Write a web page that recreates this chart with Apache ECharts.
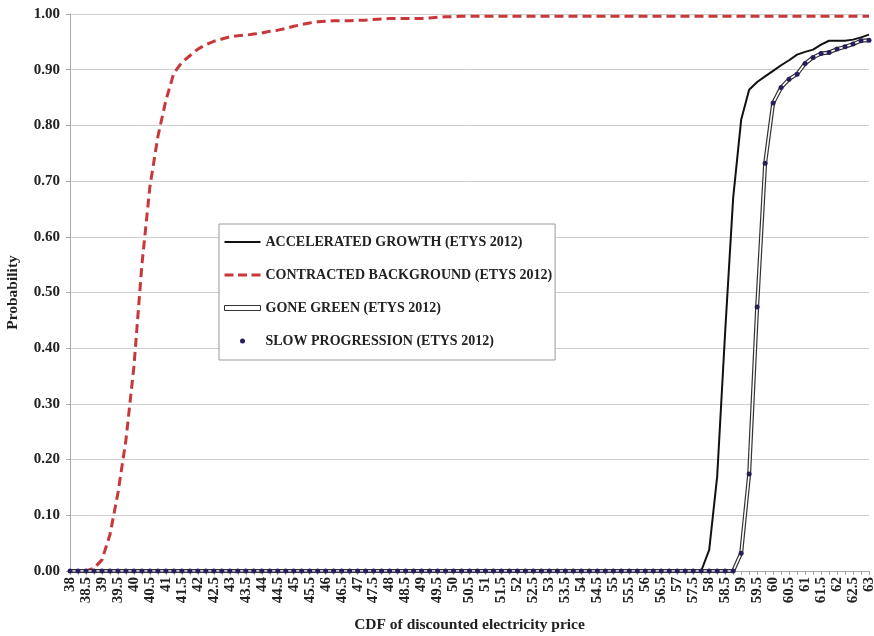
<!DOCTYPE html>
<html>
<head>
<meta charset="utf-8">
<script src="https://cdn.jsdelivr.net/npm/echarts@6/dist/echarts.min.js"></script>
<style>
html,body{margin:0;padding:0;background:#fff;}
#chart{width:874px;height:636px;}
</style>
</head>
<body>
<div id="chart"></div>
<script>
// Categories: discounted electricity price, step 0.25
var categories = ["38","38.25","38.5","38.75","39","39.25","39.5","39.75","40","40.25","40.5","40.75","41","41.25","41.5","41.75","42","42.25","42.5","42.75","43","43.25","43.5","43.75","44","44.25","44.5","44.75","45","45.25","45.5","45.75","46","46.25","46.5","46.75","47","47.25","47.5","47.75","48","48.25","48.5","48.75","49","49.25","49.5","49.75","50","50.25","50.5","50.75","51","51.25","51.5","51.75","52","52.25","52.5","52.75","53","53.25","53.5","53.75","54","54.25","54.5","54.75","55","55.25","55.5","55.75","56","56.25","56.5","56.75","57","57.25","57.5","57.75","58","58.25","58.5","58.75","59","59.25","59.5","59.75","60","60.25","60.5","60.75","61","61.25","61.5","61.75","62","62.25","62.5","62.75","63"];

var seriesNames = [
  "ACCELERATED GROWTH (ETYS 2012)",
  "CONTRACTED BACKGROUND (ETYS 2012)",
  "GONE GREEN (ETYS 2012)",
  "SLOW PROGRESSION (ETYS 2012)"
];

var acceleratedGrowth = [
  0,0,0,0,0,0,0,0,0,0, 0,0,0,0,0,0,0,0,0,0,
  0,0,0,0,0,0,0,0,0,0, 0,0,0,0,0,0,0,0,0,0,
  0,0,0,0,0,0,0,0,0,0, 0,0,0,0,0,0,0,0,0,0,
  0,0,0,0,0,0,0,0,0,0, 0,0,0,0,0,0,0,0,0,0,
  0.038,0.17,0.43,0.67,0.81,0.864,0.878,0.888,0.898,0.908,
  0.917,0.927,0.932,0.936,0.945,0.952,0.952,0.952,0.954,0.958,
  0.963
];

var contractedBackground = [
  0,0,0,0.005,0.02,0.065,0.14,0.235,0.367,0.55,
  0.69,0.78,0.845,0.894,0.913,0.925,0.937,0.945,0.951,0.955,
  0.959,0.961,0.962,0.964,0.966,0.969,0.971,0.974,0.978,0.981,
  0.984,0.986,0.987,0.988,0.988,0.988,0.989,0.989,0.990,0.991,
  0.992,0.992,0.992,0.992,0.992,0.993,0.994,0.995,0.995,0.996,
  0.996,0.996,0.996,0.996,0.996,0.996,0.996,0.996,0.996,0.996,
  0.996,0.996,0.996,0.996,0.996,0.996,0.996,0.996,0.996,0.996,
  0.996,0.996,0.996,0.996,0.996,0.996,0.996,0.996,0.996,0.996,
  0.996,0.996,0.996,0.996,0.996,0.996,0.996,0.996,0.996,0.996,
  0.996,0.996,0.996,0.996,0.996,0.996,0.996,0.996,0.996,0.996,
  0.996
];

var goneGreen = [
  0,0,0,0,0,0,0,0,0,0, 0,0,0,0,0,0,0,0,0,0,
  0,0,0,0,0,0,0,0,0,0, 0,0,0,0,0,0,0,0,0,0,
  0,0,0,0,0,0,0,0,0,0, 0,0,0,0,0,0,0,0,0,0,
  0,0,0,0,0,0,0,0,0,0, 0,0,0,0,0,0,0,0,0,0,
  0,0,0,0,0.032,0.174,0.474,0.732,0.84,0.868,
  0.883,0.892,0.911,0.922,0.929,0.931,0.937,0.941,0.946,0.952,
  0.953
];

var slowProgression = [
  0,0,0,0,0,0,0,0,0,0, 0,0,0,0,0,0,0,0,0,0,
  0,0,0,0,0,0,0,0,0,0, 0,0,0,0,0,0,0,0,0,0,
  0,0,0,0,0,0,0,0,0,0, 0,0,0,0,0,0,0,0,0,0,
  0,0,0,0,0,0,0,0,0,0, 0,0,0,0,0,0,0,0,0,0,
  0,0,0,0,0.032,0.174,0.474,0.732,0.84,0.868,
  0.883,0.892,0.911,0.922,0.929,0.931,0.937,0.941,0.946,0.952,
  0.953
];

var yTicks = [0,0.1,0.2,0.3,0.4,0.5,0.6,0.7,0.8,0.9,1.0];

var FONT = "'Liberation Serif','Times New Roman',serif";
var chart = echarts.init(document.getElementById('chart'), null, {renderer:'canvas'});

chart.setOption({
  backgroundColor: '#fff',
  animation: false,
  grid: {left: 70, right: 5, top: 14, bottom: 65, containLabel: false, outerBoundsMode: 'none'},
  legend: {
    orient: 'vertical',
    left: 219, top: 224,
    padding: [11, 3, 12, 5],
    itemGap: 19,
    itemWidth: 36,
    itemHeight: 5,
    backgroundColor: '#fff',
    borderColor: '#999',
    borderWidth: 1,
    textStyle: {fontFamily: FONT, fontWeight: 'bold', fontSize: 14, color: '#222'},
    data: [
      {name: seriesNames[0], icon: 'path://M0,0H36V2H0Z'},
      {name: seriesNames[1], icon: 'path://M0,0H9V3H0Z M13.5,0H22.5V3H13.5Z M27,0H36V3H27Z'},
      {name: seriesNames[2], icon: 'path://M0,0H36V5H0Z', itemStyle: {color: '#fff', borderColor: '#333', borderWidth: 1}},
      {name: seriesNames[3], icon: 'circle'}
    ]
  },
  xAxis: {
    type: 'category',
    data: categories,
    boundaryGap: false,
    name: 'CDF of discounted electricity price',
    nameLocation: 'middle',
    nameGap: 46,
    nameTextStyle: {fontFamily: FONT, fontWeight: 'bold', fontSize: 15.5, color: '#222'},
    axisLine: {lineStyle: {color: '#aaa', width: 1}},
    axisTick: {show: true, interval: 0, length: 4, lineStyle: {color: '#aaa'}},
    axisLabel: {interval: 1, rotate: 90, fontFamily: FONT, fontWeight: 'bold', fontSize: 15, color: '#222', margin: 6},
    splitLine: {show: false}
  },
  yAxis: {
    type: 'value',
    min: 0, max: 1, interval: 0.1,
    name: 'Probability',
    nameLocation: 'middle',
    nameGap: 49,
    nameRotate: 90,
    nameTextStyle: {fontFamily: FONT, fontWeight: 'bold', fontSize: 15.5, color: '#222'},
    axisLine: {show: true, lineStyle: {color: '#aaa', width: 1}},
    axisTick: {show: true, length: 4, lineStyle: {color: '#aaa'}},
    axisLabel: {fontFamily: FONT, fontWeight: 'bold', fontSize: 15, color: '#222', margin: 10,
      formatter: function (v) { return v.toFixed(2); }},
    splitLine: {show: true, lineStyle: {color: '#cfcfcf', width: 1}}
  },
  series: [
    {
      name: seriesNames[1], type: 'line', data: contractedBackground,
      symbol: 'none', z: 2,
      color: '#c8383a',
      lineStyle: {color: '#c8383a', width: 3, type: [9, 5]}
    },
    {
      name: seriesNames[0], type: 'line', data: acceleratedGrowth,
      symbol: 'none', z: 3,
      color: '#111',
      lineStyle: {color: '#111', width: 2}
    },
    {
      name: seriesNames[2], type: 'line', data: goneGreen,
      symbol: 'none', z: 4,
      color: '#333',
      lineStyle: {color: '#333', width: 4}
    },
    {
      name: 'gone-green-inner', type: 'line', data: goneGreen,
      symbol: 'none', z: 5, silent: true,
      color: '#fff',
      lineStyle: {color: '#fff', width: 1.6}
    },
    {
      name: seriesNames[3], type: 'line', data: slowProgression,
      symbol: 'circle', symbolSize: 5, z: 6,
      color: '#2a1d5c',
      itemStyle: {color: '#2a1d5c'},
      lineStyle: {opacity: 0, width: 0}
    }
  ]
});
</script>
</body>
</html>
